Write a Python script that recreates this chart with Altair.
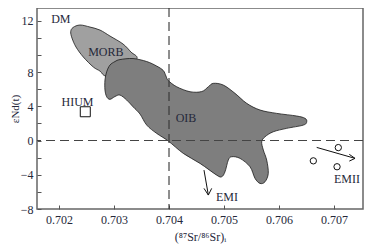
import altair as alt
import pandas as pd

# ---- data ----
morb_x = [0.702213, 0.702255, 0.702382, 0.702564, 0.702745, 0.702927, 0.703164, 0.703309,
          0.703418, 0.703200, 0.702867, 0.702745, 0.702624, 0.702442, 0.702309, 0.702236]
morb_y = [12.73, 13.22, 13.51, 13.27, 12.92, 12.22, 11.29, 10.35,
          9.59, 8.25, 7.54, 8.13, 8.60, 9.77, 10.94, 11.99]

oib_x = [0.702927, 0.703018, 0.703109, 0.703345, 0.703595, 0.703776, 0.703896, 0.703945,
         0.703987, 0.704140, 0.704382, 0.704595, 0.704715, 0.704805, 0.704987, 0.705200,
         0.705413, 0.705655, 0.705958, 0.706322, 0.706473, 0.706504, 0.706442, 0.706140,
         0.705896, 0.705745, 0.705685, 0.705715, 0.705776, 0.705805, 0.705745, 0.705655,
         0.705564, 0.705473, 0.705291, 0.705140, 0.705078, 0.705018, 0.704958, 0.704867,
         0.704564, 0.704260, 0.703987, 0.703776, 0.703595, 0.703473, 0.703351, 0.703231,
         0.703109, 0.703018, 0.702927, 0.702867, 0.702836, 0.702836, 0.702867]
oib_y = [8.83, 9.24, 9.47, 9.59, 9.24, 8.71, 8.19, 7.54,
         7.02, 6.29, 5.71, 5.73, 6.29, 6.69, 6.49, 5.52,
         4.35, 3.57, 3.18, 2.87, 2.60, 2.20, 1.81, 1.43,
         1.03, 0.44, -0.14, -1.11, -2.28, -3.84, -4.82, -5.01,
         -4.42, -3.06, -2.08, -1.89, -2.28, -3.65, -4.23, -4.04,
         -2.67, -1.50, -0.05, 0.84, 1.81, 3.10, 3.92, 4.74,
         5.32, 5.15, 4.82, 5.12, 5.91, 7.08, 8.05]

sample_x = [0.706624, 0.707078, 0.707055]
sample_y = [-2.37, -0.82, -3.06]

hium_x = [0.702478]
hium_y = [3.37]

label_text = ["DM", "MORB", "HIUM", "OIB", "EMI", "EMII"]
label_x = [0.702033, 0.702851, 0.702336, 0.704309, 0.705055, 0.707236]
label_y = [14.18, 10.39, 4.54, 2.60, -6.64, -4.50]

# arrows: shaft + two barbs (x, y) -> (x2, y2)
arrow_x = [0.704636, 0.704715, 0.704715, 0.706685, 0.707382, 0.707382]
arrow_y = [-3.45, -6.37, -6.37, -0.80, -2.08, -2.08]
arrow_x2 = [0.704715, 0.704636, 0.704776, 0.707382, 0.707278, 0.707278]
arrow_y2 = [-6.37, -5.59, -5.59, -2.08, -1.61, -2.40]

ref_sr = [0.704]
ref_nd = [0]

x_ticks = [0.702, 0.703, 0.704, 0.705, 0.706, 0.707]
y_ticks = [-8, -6, -4, -2, 0, 2, 4, 6, 8, 10, 12, 14]

# ---- chart ----
FONT = "Liberation Serif"
TXT = "#25283a"

xs = alt.Scale(domain=[0.7016, 0.707527], nice=False, zero=False)
ys = alt.Scale(domain=[-8, 15.5], nice=False, zero=False)

xaxis = alt.Axis(values=x_ticks, format=".3f", tickSize=4, offset=-4, domain=False,
                 grid=False, labelPadding=5, labelFlush=False, tickColor="#555",
                 labelFont=FONT, labelFontSize=12, labelColor=TXT,
                 title="(⁸⁷Sr/⁸⁶Sr)ᵢ", titleFont=FONT, titleFontSize=12,
                 titleFontWeight="normal", titleColor=TXT, titlePadding=6)
yaxis = alt.Axis(values=y_ticks, tickSize=4, offset=-4, domain=False, grid=False,
                 labelPadding=4, labelFlush=False, tickColor="#555",
                 labelExpr="datum.value == 14 ? '12' : (datum.value % 4 == 0 && datum.value < 12 ? datum.label : '')",
                 labelFont=FONT, labelFontSize=12, labelColor=TXT,
                 title="εNd(t)", titleFont=FONT, titleFontSize=11,
                 titleFontWeight="normal", titleColor=TXT, titlePadding=0)

X = alt.X("x:Q", scale=xs, axis=xaxis)
Y = alt.Y("y:Q", scale=ys, axis=yaxis)

morb_df = pd.DataFrame({"x": morb_x, "y": morb_y, "i": range(len(morb_x))})
oib_df = pd.DataFrame({"x": oib_x, "y": oib_y, "i": range(len(oib_x))})

morb = alt.Chart(morb_df).mark_line(
    interpolate="cardinal-closed", fill="#a0a0a0", stroke="#1a1a1a", strokeWidth=0.8
).encode(x=X, y=Y, order="i:Q")

oib = alt.Chart(oib_df).mark_line(
    interpolate="cardinal-closed", fill="#7e7e7e", stroke="#1a1a1a", strokeWidth=0.8
).encode(x=X, y=Y, order="i:Q")

vline = alt.Chart(pd.DataFrame({"x": ref_sr})).mark_rule(
    strokeDash=[9, 5], color="#333", strokeWidth=1.1).encode(x=X)
hline = alt.Chart(pd.DataFrame({"y": ref_nd})).mark_rule(
    strokeDash=[9, 5], color="#444", strokeWidth=1.1).encode(y=Y)

arrows = alt.Chart(pd.DataFrame({"x": arrow_x, "y": arrow_y, "x2": arrow_x2, "y2": arrow_y2})).mark_rule(
    color="#111", strokeWidth=1).encode(x=X, y=Y, x2="x2:Q", y2="y2:Q")

samples = alt.Chart(pd.DataFrame({"x": sample_x, "y": sample_y})).mark_point(
    shape="circle", size=40, filled=False, stroke="#111", strokeWidth=1, opacity=1).encode(x=X, y=Y)

hium = alt.Chart(pd.DataFrame({"x": hium_x, "y": hium_y})).mark_point(
    shape="square", size=100, filled=False, stroke="#111", strokeWidth=1, opacity=1).encode(x=X, y=Y)

labels = alt.Chart(pd.DataFrame({"x": label_x, "y": label_y, "t": label_text})).mark_text(
    font=FONT, fontSize=12, color=TXT, align="center", baseline="middle").encode(x=X, y=Y, text="t:N")

chart = alt.layer(morb, oib, vline, hline, arrows, samples, hium, labels).properties(
    width=326, height=201,
    autosize=alt.AutoSizeParams(type="none"),
    padding={"left": 29, "top": 0, "right": 2, "bottom": 35},
).configure_view(stroke="#666", strokeWidth=1.5)

chart.save("out.html", embed_options={"renderer": "svg", "actions": False})
